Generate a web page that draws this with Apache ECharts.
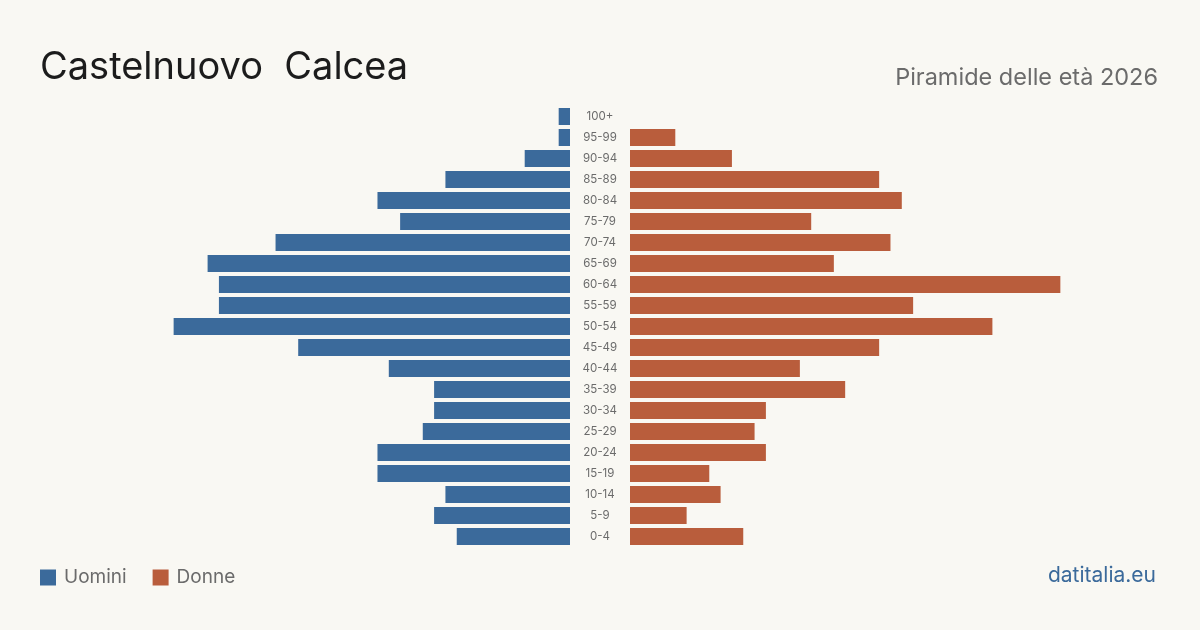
<!DOCTYPE html>
<html>
<head>
<meta charset="utf-8">
<script src="https://cdn.jsdelivr.net/npm/echarts@6/dist/echarts.min.js"></script>
<style>
  html, body { margin: 0; padding: 0; background: #f9f8f3; }
  #chart { width: 1200px; height: 630px; }
</style>
</head>
<body>
<div id="chart"></div>
<script>
// classi di età, dal basso verso l'alto
var ageClasses = ['0-4','5-9','10-14','15-19','20-24','25-29','30-34','35-39','40-44','45-49',
  '50-54','55-59','60-64','65-69','70-74','75-79','80-84','85-89','90-94','95-99','100+'];
var uomini = [10,12,11,17,17,13,12,12,16,24,35,31,31,32,26,15,17,11,4,1,1];
var donne  = [10,5,8,7,12,11,12,19,15,22,32,25,38,18,23,16,24,22,9,4,0];

var BLUE = '#3b6a9b';
var ORANGE = '#b95d3c';
var font = 'Inter, "Noto Sans", sans-serif';

var chart = echarts.init(document.getElementById('chart'));
var option = {
  backgroundColor: '#f9f8f3',
  animation: false,
  textStyle: { fontFamily: font },
  graphic: [
    { type: 'text', left: 40, top: 49, style: { text: 'Castelnuovo  Calcea', font: '400 38px ' + font, fill: '#1c1c1c' } },
    { type: 'text', right: 42, top: 66, style: { text: 'Piramide delle età 2026', font: '400 23.5px ' + font, fill: '#6b6b6b' } },
    { type: 'text', right: 44, top: 565, style: { text: 'datitalia.eu', font: '400 21px ' + font, fill: BLUE } }
  ],
  legend: {
    left: 40, top: 568, padding: 0,
    itemWidth: 16, itemHeight: 16, itemGap: 26,
    icon: 'rect',
    textStyle: { fontSize: 19, color: '#6b6b6b', padding: [0, 0, 0, 3] },
    data: ['Uomini', 'Donne']
  },
  grid: [
    { left: 117, right: 630, top: 106, height: 441 },
    { left: 630, right: 117, top: 106, height: 441 }
  ],
  xAxis: [
    { gridIndex: 0, type: 'value', min: 0, max: 40, inverse: true, show: false },
    { gridIndex: 1, type: 'value', min: 0, max: 40, show: false }
  ],
  yAxis: [
    { gridIndex: 0, type: 'category', data: ageClasses, show: false },
    { gridIndex: 1, type: 'category', data: ageClasses, position: 'left',
      axisLine: { show: false }, axisTick: { show: false },
      axisLabel: { margin: 30, align: 'center', fontSize: 11.5, color: '#6b6b6b' } }
  ],
  series: [
    { name: 'Uomini', type: 'bar', xAxisIndex: 0, yAxisIndex: 0, data: uomini,
      barCategoryGap: '19%', itemStyle: { color: BLUE } },
    { name: 'Donne', type: 'bar', xAxisIndex: 1, yAxisIndex: 1, data: donne,
      barCategoryGap: '19%', itemStyle: { color: ORANGE } }
  ]
};
chart.setOption(option);
</script>
</body>
</html>
